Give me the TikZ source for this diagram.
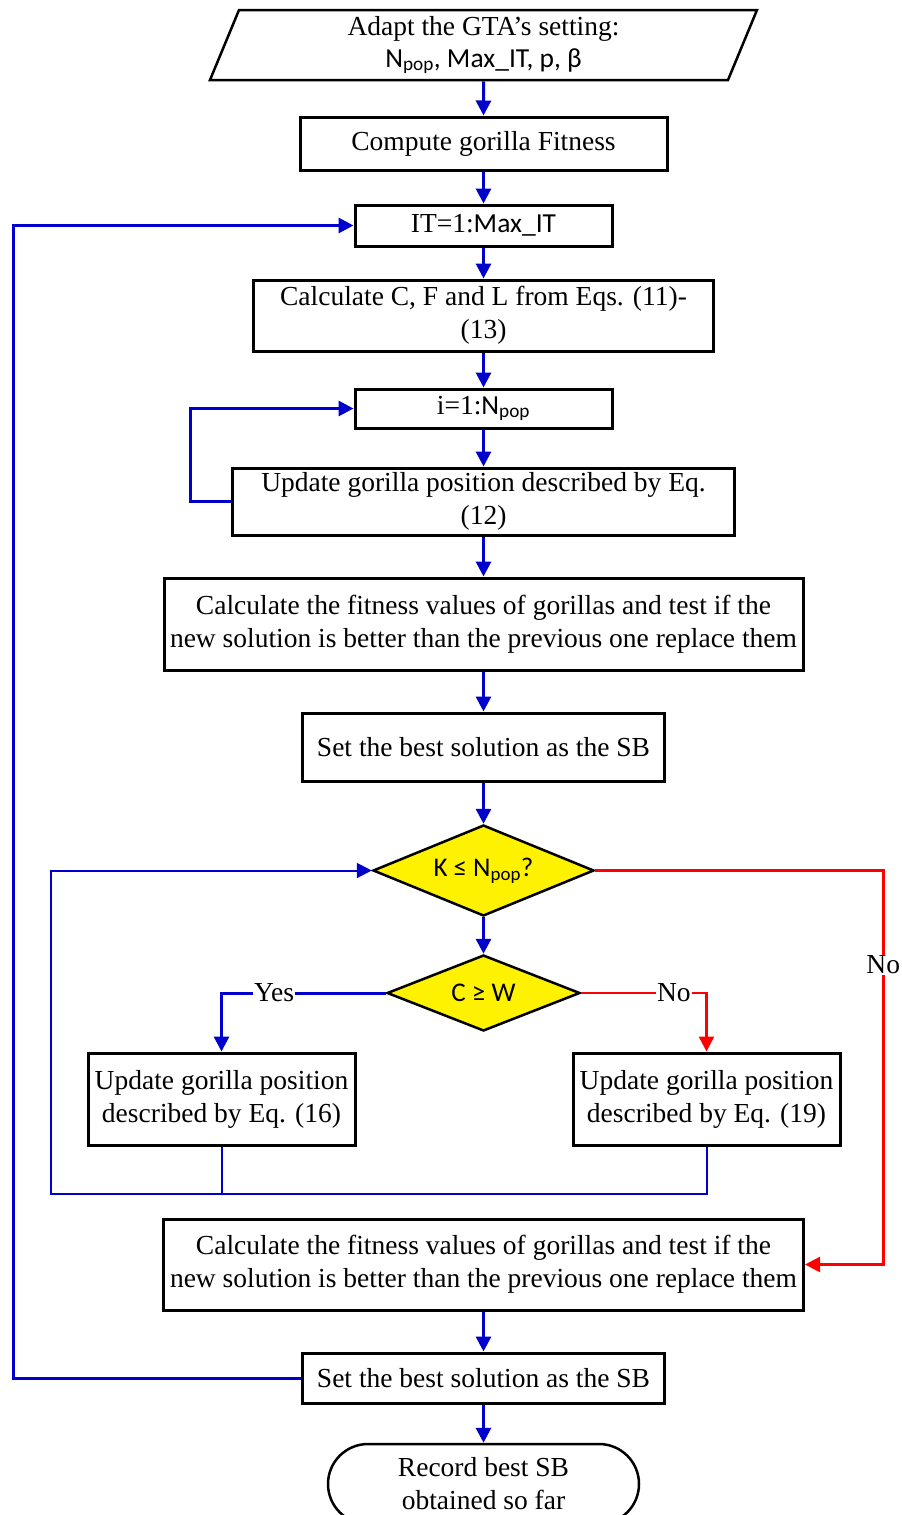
\documentclass[tikz,border=0pt]{standalone}
\usepackage{fontspec}
\setmainfont{Liberation Serif}
\newfontfamily\calfont{Carlito}
\usetikzlibrary{arrows.meta}
\usetikzlibrary{shapes, shapes.geometric, shapes.misc}

\definecolor{flowblue}{RGB}{0,0,204}
\definecolor{flowred}{RGB}{255,0,0}
\newcommand{\popsub}{\textsubscript{pop}}

\begin{document}
\begin{tikzpicture}[x=1pt,y=-1pt,>={Triangle[length=15pt,width=15pt]},line join=miter,
  every node/.style={font=\fontsize{27.5}{33}\selectfont},
  box/.style={draw,line width=3pt,align=center,inner sep=1pt},
  cond/.style={draw,diamond,fill=yellow,line width=2.5pt,inner sep=0pt,font=\calfont\fontsize{27}{33}\selectfont},
  flow/.style={flowblue,line width=3pt},
  back/.style={flowblue,line width=2pt},
  nobranch/.style={flowred,line width=2.5pt},
  lbl/.style={fill=white,text=black,inner sep=1pt}]
\useasboundingbox (0,0) rectangle (902,1515);
%%
\node (node_setting) at (483.5,45) [draw,trapezium,trapezium left angle=63.4,trapezium right angle=116.6,
  trapezium stretches body,minimum width=547,minimum height=70,line width=2.5pt,align=center,inner sep=0pt]
  {Adapt the GTA’s setting:\\[-1pt]{\calfont N\popsub, Max\_IT, p, β}};
  \node (node_compute) at (483.5,143.5) [box,minimum width=367,minimum height=53] {Compute gorilla Fitness};
  \node (node_it) at (483.5,225.5) [box,minimum width=257,minimum height=41] {IT=1:{\calfont Max\_IT}};
  \node (node_cfl) at (483.5,315.5) [box,minimum width=460,minimum height=71] {Calculate C, F and L from Eqs. (11)-\\(13)};
  \node (node_i) at (483.5,408.5) [box,minimum width=257,minimum height=39] {i=1:{\calfont N\popsub}};
  \node (node_update) at (483.5,501.5) [box,minimum width=502,minimum height=67] {Update gorilla position described by Eq.\\(12)};
  \node (node_calc) at (483.5,624) [box,minimum width=639,minimum height=92] {Calculate the fitness values of gorillas and test if the\\new solution is better than the previous one replace them};
  \node (node_best) at (483.5,747) [box,minimum width=362,minimum height=68] {Set the best solution as the SB};
  \node (node_k) at (483.5,870.5) [cond,aspect=2.43,minimum width=221,minimum height=91] {K ≤ N\popsub?};
  \node (node_cw) at (483.5,993) [cond,aspect=2.54,minimum width=193,minimum height=76] {C ≥ W};
  \node (node_left) at (221.5,1099) [box,minimum width=267,minimum height=92] {Update gorilla position\\described by Eq. (16)};
  \node (node_right) at (706.5,1099) [box,minimum width=267,minimum height=92] {Update gorilla position\\described by Eq. (19)};
  \node (node_calc2) at (483.5,1264.5) [box,minimum width=640,minimum height=91] {Calculate the fitness values of gorillas and test if the\\new solution is better than the previous one replace them};
  \node (node_best2) at (483.5,1378) [box,minimum width=362,minimum height=50] {Set the best solution as the SB};
  \node (node_record) at (483.5,1484) [draw,rounded rectangle,line width=2.5pt,minimum width=311,minimum height=80,align=center,inner sep=0pt] {Record best SB\\obtained so far};
  \draw [flow,->] (node_setting) -- (node_compute);
  \draw [flow,->] (node_compute) -- (node_it);
  \draw [flow,->] (node_it) -- (node_cfl);
  \draw [flow,->] (node_cfl) -- (node_i);
  \draw [flow,->] (node_i) -- (node_update);
  \draw [flow,->] (node_update) -- (node_calc);
  \draw [flow,->] (node_calc) -- (node_best);
  \draw [flow,->] (node_best) -- (node_k);
  \draw [flow,->] (node_k) -- (node_cw);
  \draw [flow,->] (node_cw.west) -| node [lbl,pos=0.34] {Yes} (node_left.north);
  \draw [nobranch,->] (node_cw.east) -| node [lbl,pos=0.37] {No} (node_right.north);
  \draw [nobranch,->] (node_k.east) -- ++(288,0) |- node [lbl,pos=0.12] {No} (node_calc2.east);
  \draw [back,->] (node_left.south) -- ++(0,47) -- ++(-171,0) |- (node_k.west);
  \draw [back] (node_right.south) -- ++(0,47) -- ++(-485,0);
  \draw [flow,->] (node_update.west) -- ++(-41,0) |- (node_i.west);
  \draw [flow,->] (node_calc2) -- (node_best2);
  \draw [flow,->] (node_best2.west) -- ++(-288,0) |- (node_it.west);
  \draw [flow,->] (node_best2) -- (node_record);
%
\end{tikzpicture}
\end{document}
